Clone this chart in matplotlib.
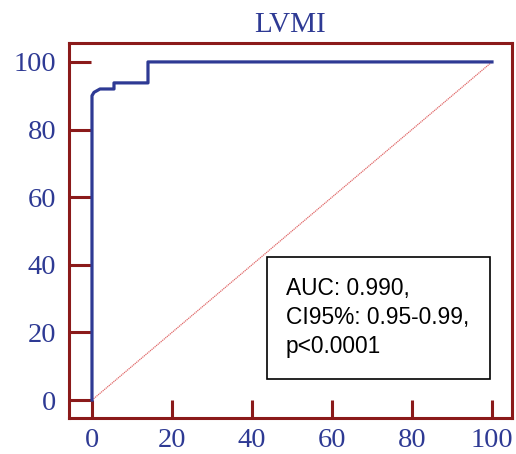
import numpy as np
import matplotlib.pyplot as plt
from matplotlib.patches import Rectangle

# ROC curve points (100 - specificity, sensitivity), in %
fpr = [0, 0, 0.5, 2, 5.5, 5.5, 14, 14, 100]
tpr = [0, 90, 91, 92, 92, 93.8, 93.8, 100, 100]
ref_x = [0, 100]
ref_y = [0, 100]
ticks = [0, 20, 40, 60, 80, 100]
title = "LVMI"
stats = "AUC: 0.990,\nCI95%: 0.95-0.99,\np<0.0001"

red = "#8b1a1a"
blue = "#2e3a94"

fig = plt.figure(figsize=(5.16, 4.54), dpi=100)
ax = fig.add_axes([0.1337, 0.0793, 0.8585, 0.826])

ax.plot(ref_x, ref_y, color="#e06868", lw=0.9, ls=(0, (1, 0.6)))
ax.plot(fpr, tpr, color=blue, lw=2.3)

ax.set_xlim(-5.75, 105)
ax.set_ylim(-5.3, 105.6)
ax.set_xticks(ticks)
ax.set_yticks(ticks)
for s in ax.spines.values():
    s.set_color(red)
    s.set_linewidth(2.2)
ax.tick_params(direction="in", width=2.2, color=red,
               labelcolor=blue, labelsize=20.5, top=False, right=False)
ax.tick_params(axis="x", pad=7, length=13)
ax.tick_params(axis="y", pad=9, length=15.5)
for lab in ax.get_xticklabels() + ax.get_yticklabels():
    lab.set_family("Liberation Serif")

ax.set_title(title, family="Liberation Serif", color=blue, fontsize=21, pad=8)

# stats box
ax.add_patch(Rectangle((0.447, 0.104), 0.503, 0.325, transform=ax.transAxes,
                       fc="white", ec="black", lw=1.2, zorder=3))
ax.text(0.49, 0.268, stats, transform=ax.transAxes, family="Liberation Sans",
        fontsize=16.4, va="center", ha="left", linespacing=1.32, zorder=4)

plt.savefig("out.png")
